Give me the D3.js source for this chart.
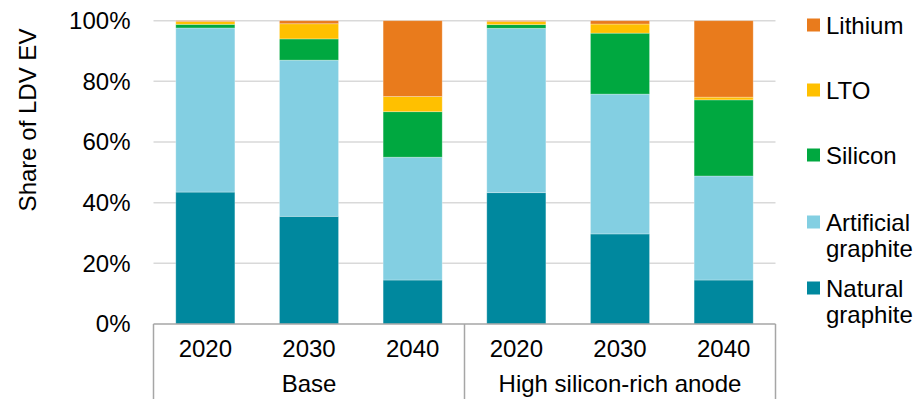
<!DOCTYPE html>
<html>
<head>
<meta charset="utf-8">
<script src="https://cdn.jsdelivr.net/npm/d3@7"></script>
<style>
  body { margin: 0; background: #fff; }
  text { font-family: "Liberation Sans", Arial, sans-serif; fill: #000; }
</style>
</head>
<body>
<div id="chart"></div>
<script>
// Data
var years = ["2020", "2030", "2040", "2020", "2030", "2040"];
var groups = ["Base", "High silicon-rich anode"];
var seriesNames = ["Natural graphite", "Artificial graphite", "Silicon", "LTO", "Lithium"];
var natural    = [43.5, 35.5, 14.5, 43.3, 29.7, 14.5];
var artificial = [54.1, 51.5, 40.5, 54.2, 46.1, 34.3];
var silicon    = [1.2, 7.0, 15.0, 1.2, 20.1, 25.1];
var lto        = [0.9, 5.0, 5.0, 1.0, 3.0, 0.9];
var lithium    = [0.3, 1.0, 25.0, 0.3, 1.1, 25.2];
var yTicks = [0, 20, 40, 60, 80, 100];

var colors = {
  "Natural graphite": "#00889E",
  "Artificial graphite": "#83CFE2",
  "Silicon": "#00A840",
  "LTO": "#FFC000",
  "Lithium": "#E97B1C"
};

var width = 919, height = 399;
var plot = {left: 153.5, right: 775.5, top: 20.7, bottom: 324};

var svg = d3.select("#chart").append("svg")
    .attr("width", width)
    .attr("height", height);

// one row per bar, keyed by index so the repeated years stay distinct
var rows = years.map(function(y, i) {
  return {
    idx: i,
    "Natural graphite": natural[i],
    "Artificial graphite": artificial[i],
    "Silicon": silicon[i],
    "LTO": lto[i],
    "Lithium": lithium[i]
  };
});

var x = d3.scaleBand()
    .domain(d3.range(years.length))
    .range([plot.left, plot.right])
    .paddingInner(0.43)
    .paddingOuter(0.215);

var y = d3.scaleLinear()
    .domain([0, 100])
    .range([plot.bottom, plot.top]);

// Gridlines
svg.append("g")
  .selectAll("line")
  .data(yTicks.slice(1))
  .enter().append("line")
    .attr("x1", plot.left)
    .attr("x2", plot.right)
    .attr("y1", function(d) { return y(d); })
    .attr("y2", function(d) { return y(d); })
    .style("stroke", "#D9D9D9")
    .style("stroke-width", 1.5);

// Y axis labels
var yAxis = d3.axisLeft(y)
    .tickValues(yTicks)
    .tickFormat(function(d) { return d + "%"; })
    .tickSize(0)
    .tickPadding(23);

var yg = svg.append("g")
    .attr("transform", "translate(" + plot.left + ",0)")
    .call(yAxis);
yg.select(".domain").remove();
yg.selectAll("text")
    .style("font-size", "24px")
    .style("font-family", "'Liberation Sans', Arial, sans-serif")
    .attr("fill", "#000");

// Y axis title
svg.append("text")
    .attr("transform", "translate(36,120) rotate(-90)")
    .attr("text-anchor", "middle")
    .style("font-size", "24px")
    .text("Share of LDV EV");

// Stacked bars
var stack = d3.stack().keys(seriesNames);
var layers = stack(rows);

svg.append("g")
  .selectAll("g")
  .data(layers)
  .enter().append("g")
    .attr("fill", function(d) { return colors[d.key]; })
  .selectAll("rect")
  .data(function(d) { return d; })
  .enter().append("rect")
    .attr("x", function(d) { return x(d.data.idx); })
    .attr("width", x.bandwidth())
    .attr("y", function(d) { return y(d[1]); })
    .attr("height", function(d) { return y(d[0]) - y(d[1]); })
    .style("stroke", "#fff")
    .style("stroke-opacity", 0.35)
    .style("stroke-width", 0.8);

// Category axis (years + group boxes)
var axisColor = "#A6A6A6";
svg.append("line")
    .attr("x1", plot.left).attr("x2", plot.right)
    .attr("y1", plot.bottom).attr("y2", plot.bottom)
    .style("stroke", axisColor).style("stroke-width", 1.5);

var groupEdges = [plot.left, (x(2) + x.bandwidth() + x(3)) / 2, plot.right];
svg.append("g")
  .selectAll("line")
  .data(groupEdges)
  .enter().append("line")
    .attr("x1", function(d) { return d; })
    .attr("x2", function(d) { return d; })
    .attr("y1", plot.bottom)
    .attr("y2", height)
    .style("stroke", axisColor)
    .style("stroke-width", 1.5);

svg.append("g")
  .selectAll("text")
  .data(years)
  .enter().append("text")
    .attr("x", function(d, i) { return x(i) + x.bandwidth() / 2; })
    .attr("y", 356.5)
    .attr("text-anchor", "middle")
    .style("font-size", "24px")
    .text(function(d) { return d; });

svg.append("g")
  .selectAll("text")
  .data(groups)
  .enter().append("text")
    .attr("x", function(d, i) { return (groupEdges[i] + groupEdges[i + 1]) / 2; })
    .attr("y", 391.5)
    .attr("text-anchor", "middle")
    .style("font-size", "24px")
    .text(function(d) { return d; });

// Legend (top to bottom: Lithium ... Natural graphite)
var legendItems = [
  {key: "Lithium", lines: ["Lithium"], y: 25},
  {key: "LTO", lines: ["LTO"], y: 90},
  {key: "Silicon", lines: ["Silicon"], y: 155},
  {key: "Artificial graphite", lines: ["Artificial", "graphite"], y: 222},
  {key: "Natural graphite", lines: ["Natural", "graphite"], y: 288}
];

var legend = svg.append("g")
  .selectAll("g")
  .data(legendItems)
  .enter().append("g")
    .attr("transform", function(d) { return "translate(807," + d.y + ")"; });

legend.append("rect")
    .attr("x", 0)
    .attr("y", -6.5)
    .attr("width", 13)
    .attr("height", 13)
    .attr("fill", function(d) { return colors[d.key]; });

legend.append("text")
    .attr("x", 19)
    .attr("y", 8.5)
    .style("font-size", "24px")
    .selectAll("tspan")
    .data(function(d) { return d.lines; })
    .enter().append("tspan")
      .attr("x", 19)
      .attr("dy", function(d, i) { return i === 0 ? 0 : 26.5; })
      .text(function(d) { return d; });
</script>
</body>
</html>
